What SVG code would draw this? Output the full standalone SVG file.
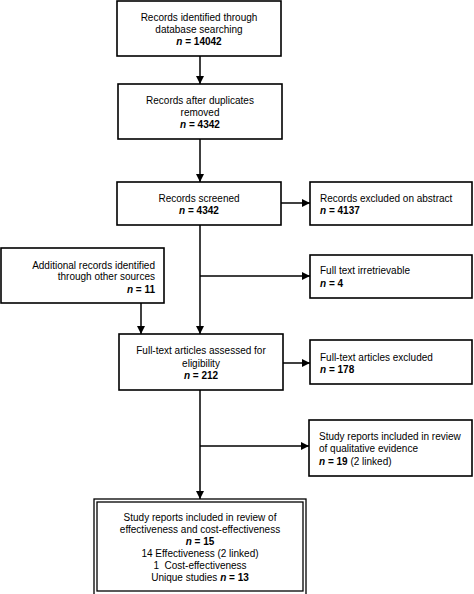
<svg xmlns="http://www.w3.org/2000/svg" width="474" height="594" viewBox="0 0 474 594">
<style>
.box{fill:#fff;stroke:#000;stroke-width:1.6}
.gbox{fill:#fff;stroke:#000;stroke-width:1.3}
text{font-family:"Liberation Sans",Arial,sans-serif;font-size:10px;fill:#000}
.c{text-anchor:middle}
.r{text-anchor:end}
.b{font-weight:bold}
.i{font-style:italic;font-weight:bold}
.ln{fill:none;stroke:#000;stroke-width:1.5}
</style>
<defs>
<marker id="ah" viewBox="0 0 8 8" refX="8" refY="4" markerWidth="8" markerHeight="8" markerUnits="userSpaceOnUse" orient="auto">
<path d="M0,0 L8,4 L0,8 Z" fill="#000"/>
</marker>
</defs>
<rect width="474" height="594" fill="#fff"/>
<g id="connectors">
<line class="ln" x1="200" y1="56" x2="200" y2="84" marker-end="url(#ah)"/>
<line class="ln" x1="200" y1="139" x2="200" y2="182" marker-end="url(#ah)"/>
<line class="ln" x1="281" y1="203" x2="310" y2="203" marker-end="url(#ah)"/>
<line class="ln" x1="200" y1="225" x2="200" y2="334" marker-end="url(#ah)"/>
<line class="ln" x1="200" y1="276" x2="310" y2="276" marker-end="url(#ah)"/>
<line class="ln" x1="141" y1="303" x2="141" y2="334" marker-end="url(#ah)"/>
<line class="ln" x1="283" y1="363" x2="310" y2="363" marker-end="url(#ah)"/>
<line class="ln" x1="200" y1="390" x2="200" y2="499" marker-end="url(#ah)"/>
<line class="ln" x1="200" y1="446" x2="309" y2="446" marker-end="url(#ah)"/>
</g>
<g id="n1">
<rect class="box" x="117" y="1" width="164" height="55"/>
<text class="c" x="199" y="21">Records identified through</text>
<text class="c" x="199" y="33">database searching</text>
<text class="c b" x="199" y="45"><tspan class="i">n</tspan> = 14042</text>
</g>
<g id="n2">
<rect class="box" x="118" y="84" width="164" height="55"/>
<text class="c" x="200" y="104">Records after duplicates</text>
<text class="c" x="200" y="116">removed</text>
<text class="c b" x="200" y="128"><tspan class="i">n</tspan> = 4342</text>
</g>
<g id="n3">
<rect class="box" x="117" y="182" width="164" height="43"/>
<text class="c" x="199" y="202">Records screened</text>
<text class="c b" x="199" y="214"><tspan class="i">n</tspan> = 4342</text>
</g>
<g id="n4">
<rect class="box" x="310" y="182" width="162" height="43"/>
<text x="320" y="202">Records excluded on abstract</text>
<text class="b" x="320" y="214"><tspan class="i">n</tspan> = 4137</text>
</g>
<g id="n5">
<rect class="box" x="310" y="255" width="162" height="43"/>
<text x="320" y="274">Full text irretrievable</text>
<text class="b" x="320" y="287"><tspan class="i">n</tspan> = 4</text>
</g>
<g id="n6">
<rect class="box" x="1" y="248" width="163" height="55"/>
<text class="r" x="155" y="269">Additional records identified</text>
<text class="r" x="155" y="280">through other sources</text>
<text class="r b" x="155" y="293"><tspan class="i">n</tspan> = 11</text>
</g>
<g id="n7">
<rect class="box" x="119" y="334" width="164" height="56"/>
<text class="c" x="201" y="354">Full-text articles assessed for</text>
<text class="c" x="201" y="367">eligibility</text>
<text class="c b" x="201" y="379"><tspan class="i">n</tspan> = 212</text>
</g>
<g id="n8">
<rect class="box" x="310" y="340" width="162" height="44"/>
<text x="320" y="361">Full-text articles excluded</text>
<text class="b" x="320" y="373"><tspan class="i">n</tspan> = 178</text>
</g>
<g id="n9">
<rect class="box" x="309" y="420" width="163" height="56"/>
<text x="319" y="440">Study reports included in review</text>
<text x="319" y="452">of qualitative evidence</text>
<text x="319" y="465"><tspan class="i">n</tspan><tspan class="b"> = 19</tspan> (2 linked)</text>
</g>
<g id="n10">
<rect class="gbox" x="94" y="499" width="212" height="97"/>
<rect class="gbox" x="97" y="502" width="206" height="89"/>
<text class="c" x="200" y="521">Study reports included in review of</text>
<text class="c" x="200" y="533">effectiveness and cost-effectiveness</text>
<text class="c b" x="200" y="545"><tspan class="i">n</tspan> = 15</text>
<text class="c" x="200" y="557">14 Effectiveness (2 linked)</text>
<text class="c" x="200" y="569">1&#160; Cost-effectiveness</text>
<text class="c" x="200" y="581">Unique studies <tspan class="i">n</tspan><tspan class="b"> = 13</tspan></text>
</g>
</svg>
